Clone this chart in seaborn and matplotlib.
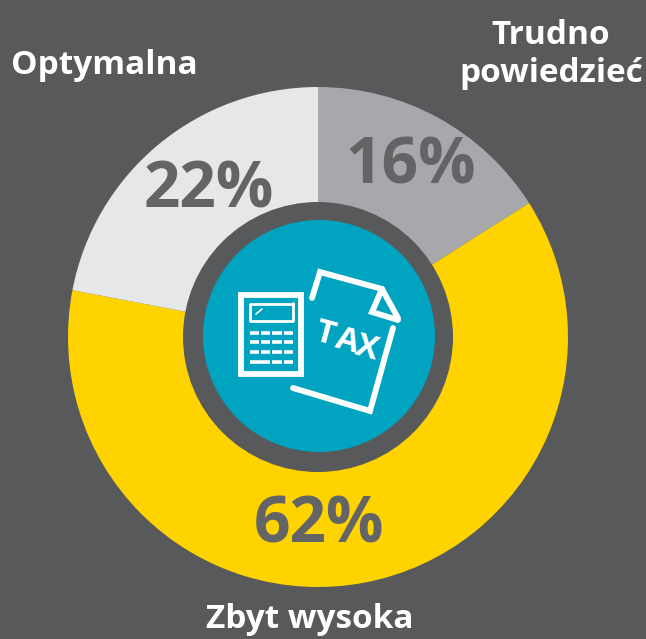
import matplotlib
matplotlib.use("Agg")
import matplotlib.pyplot as plt
from matplotlib.patches import Circle, Rectangle
import seaborn as sns

labels = ["Trudno\npowiedzieć", "Zbyt wysoka", "Optymalna"]
values = [16, 62, 22]
value_text = ["16%", "62%", "22%"]
colors = ["#A7A8AB", "#FFD300", "#E6E7E9"]
bg = "#58595B"
teal = "#00A3C0"

sns.set_theme(style="white")
plt.rcParams['font.family'] = ['Open Sans', 'DejaVu Sans']

W, H = 646, 639
fig = plt.figure(figsize=(W / 100, H / 100), dpi=100, facecolor=bg)
ax = fig.add_axes([0, 0, 1, 1])

cx, cy = 318, 337
# y axis is flipped below, so this runs clockwise from the top on screen
ax.pie(values, colors=colors, startangle=-90, counterclock=True, center=(cx, cy),
       radius=250, wedgeprops=dict(width=170, linewidth=0), frame=True)
ax.set_xlim(0, W)
ax.set_ylim(H, 0)
ax.set_aspect("equal")
ax.axis("off")

ax.add_patch(Circle((cx, cy), 135, fc=bg, ec="none", zorder=3))
ax.add_patch(Circle((cx + 1, cy - 1), 116, fc=teal, ec="none", zorder=4))

for txt, x, y in zip(value_text, [411, 319, 209], [167, 526, 191]):
    ax.text(x, y, txt, color="#636466", fontsize=46, fontweight="bold", ha="center", va="center", zorder=5)

ax.text(551, 55, labels[0], color="white", fontsize=24, fontweight="bold", ha="center", va="center", linespacing=1.2)
ax.text(310, 620, labels[1], color="white", fontsize=24, fontweight="bold", ha="center", va="center")
ax.text(104, 65, labels[2], color="white", fontsize=24, fontweight="bold", ha="center", va="center")

# calculator
ax.add_patch(Rectangle((241, 295), 60, 79, fc=teal, ec="white", lw=4.2, zorder=5))
ax.plot([293, 250, 250, 293, 293], [304, 304, 321, 321, 303], color="white", lw=2, zorder=6)
ax.plot([256, 262], [314, 309], color="white", lw=1.2, zorder=6)
for yy in [333, 342, 352]:
    for x0, x1 in [(250, 259), (261, 270), (272, 282), (284, 293)]:
        ax.plot([x0, x1], [yy, yy], color="white", lw=2.6, solid_capstyle="butt", zorder=6)
for x0, x1 in [(250, 270), (272, 282), (284, 293)]:
    ax.plot([x0, x1], [362, 362], color="white", lw=2.6, solid_capstyle="butt", zorder=6)

# document
ax.plot([312, 320, 382, 398], [298, 272, 289, 318], color="white", lw=4.2, solid_joinstyle="miter", zorder=6)
ax.plot([382, 372, 398], [289, 312, 320], color="white", lw=4.2, solid_joinstyle="miter", zorder=6)
ax.plot([393, 370, 293], [328, 411, 388], color="white", lw=4.2, solid_joinstyle="miter", zorder=6)
for ch, x, y in zip("TAX", [325, 347, 367], [334, 342, 349]):
    ax.text(x, y, ch, color="white", fontsize=24, fontweight="bold", rotation=-15, ha="center", va="center", zorder=6)

fig.savefig("out.png", dpi=100, facecolor=bg)
